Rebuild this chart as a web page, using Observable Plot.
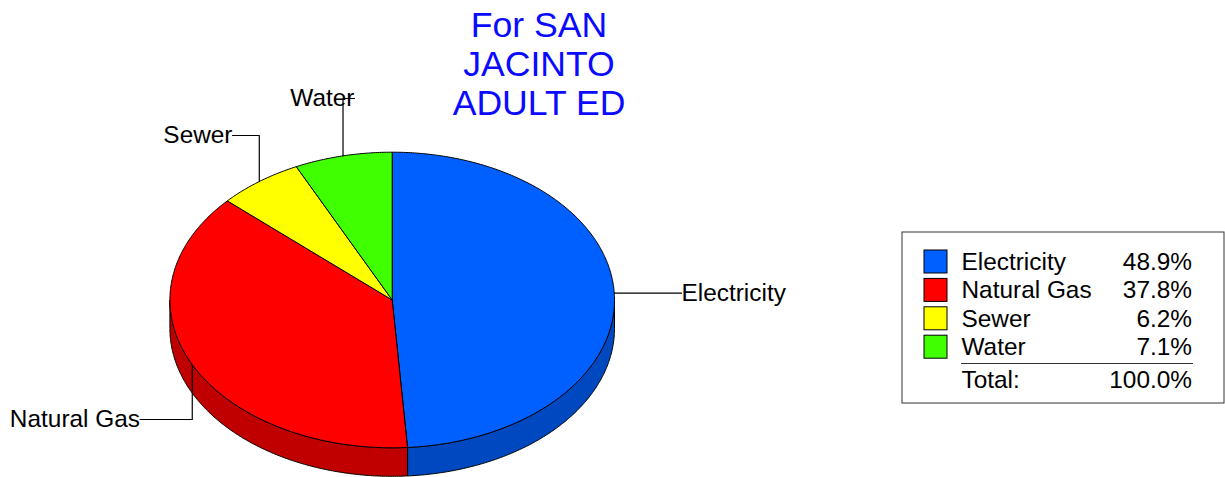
<!DOCTYPE html>
<html>
<head>
<meta charset="utf-8">
<script src="https://cdn.jsdelivr.net/npm/d3@7"></script>
<script src="https://cdn.jsdelivr.net/npm/@observablehq/plot@0.6"></script>
<style>
  html, body { margin: 0; padding: 0; background: #fff; }
  svg { display: block; background: #fff; }
</style>
</head>
<body>
<div id="chart"></div>
<script>
const categories = ["Electricity", "Natural Gas", "Sewer", "Water"];
const shares = [48.9, 37.8, 6.2, 7.1];
const shareLabels = ["48.9%", "37.8%", "6.2%", "7.1%"];
const totalLabel = "Total:";
const totalValue = "100.0%";
const titleText = "For SAN\nJACINTO\nADULT ED";
const topColors = ["#0060ff", "#ff0000", "#ffff00", "#40ff00"];
const sideColors = ["#0048c0", "#c00000", "#c0c000", "#30c000"];

// Pie geometry
const cx = 391.7, cy = 299.5, rx = 222.3, ry = 147.8, depth = 28.5;
const total = d3.sum(shares);
const pt = (a, dy = 0) => ({x: cx + rx * Math.sin(a), y: cy - ry * Math.cos(a) + dy});
const arc = (a0, a1, dy = 0) => {
  const n = Math.max(2, Math.ceil(Math.abs(a1 - a0) * 120));
  return d3.range(n + 1).map(i => pt(a0 + (a1 - a0) * i / n, dy));
};

let acc = 0;
const slices = categories.map((name, i) => {
  const a0 = acc / total * 2 * Math.PI;
  acc += shares[i];
  const a1 = acc / total * 2 * Math.PI;
  return {name, i, a0, a1, mid: (a0 + a1) / 2};
});

const topPts = slices.flatMap(s => {
  const c = {x: cx, y: cy};
  return [c, ...arc(s.a0, s.a1), c].map(p => ({...p, key: s.name}));
});

// Visible front wall: only the part of each slice between 90 and 270 degrees
const wallPts = slices.flatMap(s => {
  const a0 = Math.max(s.a0, Math.PI / 2), a1 = Math.min(s.a1, 3 * Math.PI / 2);
  if (a1 <= a0) return [];
  const upper = arc(a0, a1), lower = arc(a1, a0, depth);
  return [...upper, ...lower, upper[0]].map(p => ({...p, key: s.name + " side"}));
});

// Leader lines start at each slice's mid-angle
const leaderSpec = [
  {level: 292.7, endX: 681, anchor: "start"},
  {elbow: 419, endX: 139.5, anchor: "end"},
  {elbow: 135, endX: 232, anchor: "end"},
  {elbow: 98,  endX: 354, anchor: "end"}
];
const leaderPts = slices.flatMap((s, i) => {
  const p = pt(s.mid), spec = leaderSpec[i];
  const pts = spec.elbow == null
    ? [{x: p.x, y: spec.level}, {x: spec.endX, y: spec.level}]
    : [p, {x: p.x, y: spec.elbow}, {x: spec.endX, y: spec.elbow}];
  return pts.map(q => ({...q, key: s.name}));
});
const labelRows = slices.map((s, i) => {
  const spec = leaderSpec[i];
  return {name: s.name, x: spec.endX, y: spec.elbow ?? spec.level, anchor: spec.anchor};
});

// Legend layout
const box = {x1: 902, x2: 1224, y1: 232, y2: 403};
const rowY = i => 261.5 + i * 28.4;
const legendRows = categories.map((name, i) => ({name, label: shareLabels[i], y: rowY(i)}));
const font = "'Liberation Sans', Arial, sans-serif";
const textSize = 24.4;

const colorDomain = [...categories, ...categories.map(c => c + " side")];
const colorRange = [...topColors, ...sideColors];

const chart = Plot.plot({
  width: 1225,
  height: 477,
  margin: 0,
  style: {background: "#fff", fontFamily: font},
  x: {domain: [0, 1225], range: [0, 1225], axis: null},
  y: {domain: [0, 477], range: [0, 477], axis: null},
  color: {type: "ordinal", domain: colorDomain, range: colorRange},
  marks: [
    Plot.line(wallPts, {x: "x", y: "y", z: "key", fill: "key", stroke: "#000", strokeWidth: 1, curve: "linear"}),
    Plot.line(topPts, {x: "x", y: "y", z: "key", fill: "key", stroke: "#000", strokeWidth: 1, curve: "linear"}),
    Plot.line(leaderPts, {x: "x", y: "y", z: "key", stroke: "#000", strokeWidth: 1.2, curve: "linear"}),
    ...["start", "end"].map(anchor => Plot.text(labelRows.filter(d => d.anchor === anchor), {
      x: "x", y: "y", text: "name", textAnchor: anchor, fontSize: textSize, fill: "#000", lineAnchor: "middle"
    })),
    Plot.text([titleText], {
      x: () => 538.5, y: () => 63, text: d => d, fontSize: 35.6, lineHeight: 1.1,
      fill: "#0a0aff", textAnchor: "middle", lineAnchor: "middle"
    }),
    Plot.rect([box], {x1: "x1", x2: "x2", y1: "y1", y2: "y2", fill: "#fff", stroke: "#333", strokeWidth: 1}),
    Plot.rect(legendRows, {
      x1: () => 924, x2: () => 947, y1: d => d.y - 11.5, y2: d => d.y + 11.5,
      fill: "name", stroke: "#000", strokeWidth: 1
    }),
    Plot.text(legendRows, {x: () => 961, y: "y", text: "name", textAnchor: "start", fontSize: textSize, fill: "#000"}),
    Plot.text(legendRows, {x: () => 1191.5, y: "y", text: "label", textAnchor: "end", fontSize: textSize, fill: "#000"}),
    Plot.ruleY([363], {x1: 961, x2: 1193, stroke: "#333", strokeWidth: 1}),
    Plot.text([totalLabel], {x: () => 961, y: () => 379.5, text: d => d, textAnchor: "start", fontSize: textSize, fill: "#000"}),
    Plot.text([totalValue], {x: () => 1191.5, y: () => 379.5, text: d => d, textAnchor: "end", fontSize: textSize, fill: "#000"})
  ]
});
document.getElementById("chart").append(chart);
</script>
</body>
</html>
